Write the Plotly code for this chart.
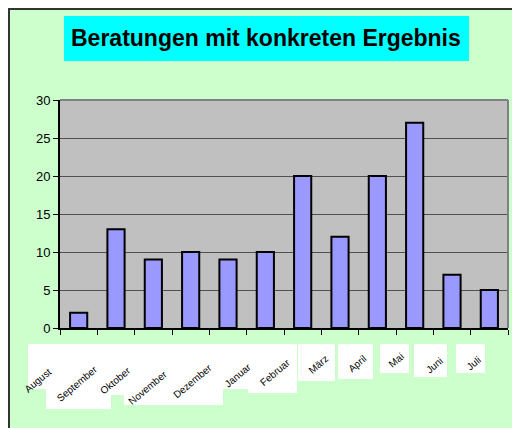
import plotly.graph_objects as go

months = ["August", "September", "Oktober", "November", "Dezember", "Januar",
          "Februar", "März", "April", "Mai", "Juni", "Juli"]
values = [2, 13, 9, 10, 9, 10, 20, 12, 20, 27, 7, 5]
y_ticks = [0, 5, 10, 15, 20, 25, 30]
title_text = "Beratungen mit konkreten Ergebnis"

# page is shown with an 8px body margin; figure coords = page coords - OFF
OFF = 8
W, H = 520 - OFF, 428 - OFF
L, R, T, B = 60 - OFF, 12, 100 - OFF, 100
PW, PH = W - L - R, H - T - B


def px(x):
    return (x - OFF - L) / PW


def py(y):
    return (H - B - (y - OFF)) / PH


FONT = "Arial, Liberation Sans, sans-serif"

fig = go.Figure(go.Bar(
    x=months, y=values,
    marker=dict(color="#9999FF", line=dict(color="black", width=2)),
    width=0.46,
))

shapes = []
# outer border
shapes.append(dict(type="line", xref="paper", yref="paper", x0=px(8), x1=px(530), y0=py(9), y1=py(9),
                   line=dict(color="#333333", width=2), layer="above"))
shapes.append(dict(type="line", xref="paper", yref="paper", x0=px(9), x1=px(9), y0=py(8), y1=py(440),
                   line=dict(color="#333333", width=2), layer="above"))
# title box
shapes.append(dict(type="rect", xref="paper", yref="paper", x0=px(64), x1=px(469), y0=py(61), y1=py(16),
                   fillcolor="#00FFFF", line=dict(width=0), layer="above"))
# plot border top/right
shapes.append(dict(type="line", xref="paper", yref="paper", x0=0, x1=1, y0=1, y1=1,
                   line=dict(color="#808080", width=2), layer="above"))
shapes.append(dict(type="line", xref="paper", yref="paper", x0=1, x1=1, y0=0, y1=1,
                   line=dict(color="#808080", width=2), layer="above"))
# white label boxes
boxes = [(28, 62, 344, 389), (46, 111, 344, 409), (100, 124, 344, 395), (124, 223, 344, 405),
         (223, 248, 344, 389), (248, 297, 344, 393), (298, 335, 344, 381), (338, 373, 344, 379),
         (380, 409, 344, 373), (414, 447, 344, 377), (456, 485, 344, 373)]
for x0, x1, y0, y1 in boxes:
    shapes.append(dict(type="rect", xref="paper", yref="paper", x0=px(x0), x1=px(x1), y0=py(y1), y1=py(y0),
                       fillcolor="white", line=dict(width=0), layer="above"))

label_offsets = [(-41, -52), (-39, -55), (-38, -52), (-43, -59), (-36, -53), (-28, -47),
                 (-28, -44), (-22, -36), (-20, -35), (-19, -32), (-18, -37), (-16, -35)]
annotations = []
for m, (dx, dy) in zip(months, label_offsets):
    annotations.append(dict(x=m, xref="x", y=0, yref="paper", xshift=dx, yshift=dy,
                            text=m, showarrow=False, textangle=-40,
                            xanchor="center", yanchor="middle",
                            font=dict(family=FONT, size=10, color="black")))
annotations.append(dict(x=px(266), y=py(38), xref="paper", yref="paper", text="<b>" + title_text + "</b>",
                        showarrow=False, xanchor="center", yanchor="middle",
                        font=dict(family=FONT, size=23, color="black")))

fig.update_layout(
    width=W, height=H,
    margin=dict(l=L, r=R, t=T, b=B, pad=0, autoexpand=False),
    paper_bgcolor="#CCFFCC",
    plot_bgcolor="#C0C0C0",
    showlegend=False,
    bargap=0.54,
    font=dict(family=FONT, size=13, color="black"),
    shapes=shapes,
    annotations=annotations,
    xaxis=dict(type="category", categoryorder="array", categoryarray=months,
               range=[-0.5, len(months) - 0.5],
               showticklabels=False, ticks="outside", ticklen=5, tickcolor="black",
               tickson="boundaries", showline=True, linecolor="black", linewidth=2,
               showgrid=False, fixedrange=True),
    yaxis=dict(range=[0, 30], tickvals=y_ticks, ticks="outside", ticklen=5, tickcolor="black",
               showline=True, linecolor="black", linewidth=2, gridcolor="#505050", gridwidth=1,
               zeroline=False, tickfont=dict(size=13, family=FONT, color="black"), fixedrange=True),
)

fig.write_html("out.html")
